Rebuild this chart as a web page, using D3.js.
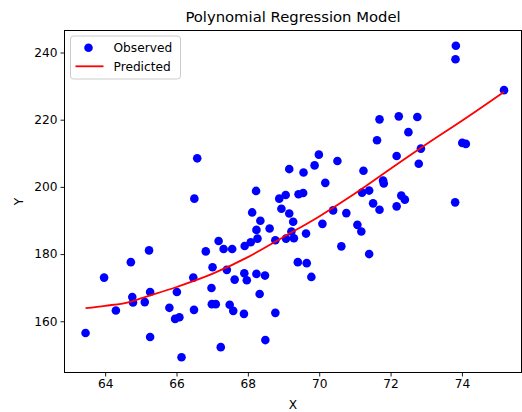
<!DOCTYPE html>
<html>
<head>
<meta charset="utf-8">
<script src="https://cdn.jsdelivr.net/npm/d3@7"></script>
<style>
  html, body { margin: 0; padding: 0; background: #fff; }
  svg { display: block; font-family: "DejaVu Sans", sans-serif; }
</style>
</head>
<body>
<svg id="chart" width="522" height="412"></svg>
<script>
// ===============================
// Dades
// ===============================
const xObserved = [
  66.58, 66.50, 65.23, 64.72, 63.97, 67.18, 66.82, 67.32, 67.56, 67.91,
  67.01, 67.41, 66.47, 67.63, 67.90, 66.98, 66.01, 65.26, 64.76, 64.78,
  65.11, 64.30, 65.80, 66.49, 66.99, 67.10, 67.49, 67.59, 67.89, 65.96,
  66.08, 63.45, 65.26, 67.24, 66.14, 67.97, 68.24, 68.48, 68.33, 68.77,
  68.49, 68.12, 68.23, 68.35, 68.24, 68.61, 68.08, 68.27, 68.77, 69.07,
  69.29, 68.88, 69.06, 69.42, 69.55, 68.94, 69.16, 69.27, 69.22, 69.63,
  69.16, 69.56, 69.87, 69.99, 69.40, 69.65, 69.78, 70.09, 70.17, 70.51,
  70.39, 70.76, 70.62, 71.07, 71.18, 71.24, 71.20, 71.40, 71.40, 71.51,
  71.69, 71.62, 71.69, 71.79, 71.81, 72.23, 72.75, 72.50, 72.85, 72.17,
  72.79, 72.30, 72.40, 72.17, 73.83, 73.82, 75.18, 74.01, 74.11, 73.81
];
const yObserved = [
  208.5, 196.5, 181.1, 177.6, 173.0, 183.9, 180.8, 181.5, 181.5, 182.4,
  176.1, 175.3, 173.0, 172.4, 174.3, 169.9, 168.7, 168.7, 167.2, 165.6,
  165.7, 163.2, 164.0, 163.4, 165.1, 165.1, 164.9, 163.1, 162.2, 160.7,
  161.2, 156.5, 155.3, 152.3, 149.3, 172.2, 174.1, 173.6, 168.1, 162.5,
  154.4, 192.4, 198.8, 189.9, 187.2, 187.6, 183.5, 184.6, 184.1, 184.6,
  184.7, 196.5, 197.6, 197.8, 198.2, 193.5, 192.1, 189.6, 186.7, 186.1,
  205.3, 204.3, 206.4, 209.6, 177.6, 177.3, 173.2, 189.0, 201.2, 207.7,
  193.0, 192.2, 182.3, 188.7, 186.7, 204.8, 198.3, 198.9, 180.0, 195.1,
  193.2, 213.9, 220.1, 201.9, 201.0, 221.0, 220.8, 216.3, 211.4, 209.2,
  206.9, 197.4, 196.2, 194.2, 242.0, 238.0, 228.8, 213.1, 212.8, 195.4
];

// corba predita (llegida del gràfic)
const xPredicted = [63.45, 64.0, 64.71, 65.0, 66.0, 67.0, 68.0, 69.0, 70.0, 71.0, 72.0, 73.0, 74.0, 75.18];
const yPredicted = [163.9, 164.6, 165.8, 166.8, 170.2, 174.1, 179.1, 185.1, 191.2, 198.0, 205.4, 212.7, 219.7, 228.3];

const xTicks = [64, 66, 68, 70, 72, 74];
const yTicks = [160, 180, 200, 220, 240];


// ===============================
// Escales
// ===============================
const svg = d3.select("#chart");

const plotLeft = 64.5, plotRight = 521.5, plotTop = 30.5, plotBottom = 372.5;

const x = d3.scaleLinear().domain([62.86, 75.67]).range([plotLeft, plotRight]);
const y = d3.scaleLinear().domain([144.6, 246.7]).range([373, 30]);

const obs = xObserved.map((d, i) => ({ x: d, y: yObserved[i] }));
const pred = xPredicted.map((d, i) => ({ x: d, y: yPredicted[i] }));


// ===============================
// Punts i línia
// ===============================
svg.append("g")
  .selectAll("circle")
  .data(obs)
  .enter()
  .append("circle")
  .attr("cx", d => x(d.x))
  .attr("cy", d => y(d.y))
  .attr("r", 4.3)
  .attr("fill", "#0000ff");

const line = d3.line()
  .x(d => x(d.x))
  .y(d => y(d.y))
  .curve(d3.curveMonotoneX);

svg.append("path")
  .datum(pred)
  .attr("d", line)
  .attr("fill", "none")
  .attr("stroke", "#ff0000")
  .attr("stroke-width", 1.8);


// ===============================
// Eixos
// ===============================
const xAxis = svg.append("g")
  .attr("transform", `translate(0, ${plotBottom})`)
  .call(d3.axisBottom(x).tickValues(xTicks).tickSize(4).tickPadding(3).tickFormat(d3.format("d")));

const yAxis = svg.append("g")
  .attr("transform", `translate(${plotLeft}, 0)`)
  .call(d3.axisLeft(y).tickValues(yTicks).tickSize(4).tickPadding(3).tickFormat(d3.format("d")));

[xAxis, yAxis].forEach(a => {
  a.select(".domain").remove();
  a.selectAll("line").attr("stroke", "#000").attr("stroke-width", 0.9);
  a.selectAll("text")
    .style("font-family", "DejaVu Sans")
    .style("font-size", "12.2px")
    .attr("fill", "#000");
});

// marc
svg.append("rect")
  .attr("x", plotLeft)
  .attr("y", plotTop)
  .attr("width", plotRight - plotLeft)
  .attr("height", plotBottom - plotTop)
  .attr("fill", "none")
  .attr("stroke", "#000")
  .attr("stroke-width", 1);

// títol i etiquetes
svg.append("text")
  .attr("x", (plotLeft + plotRight) / 2)
  .attr("y", 22)
  .attr("text-anchor", "middle")
  .text("Polynomial Regression Model")
  .style("font-size", "14.8px")
  .attr("fill", "#000");

svg.append("text")
  .attr("x", (plotLeft + plotRight) / 2)
  .attr("y", 409)
  .attr("text-anchor", "middle")
  .text("X")
  .style("font-size", "12.2px")
  .attr("fill", "#000");

svg.append("text")
  .attr("transform", `translate(22.5, ${(plotTop + plotBottom) / 2}) rotate(-90)`)
  .attr("text-anchor", "middle")
  .text("Y")
  .style("font-size", "12.2px")
  .attr("fill", "#000");


// ===============================
// Llegenda
// ===============================
const legend = svg.append("g").attr("transform", "translate(70.5, 36)");

legend.append("rect")
  .attr("width", 110)
  .attr("height", 43)
  .attr("rx", 3)
  .attr("ry", 3)
  .attr("fill", "white")
  .attr("fill-opacity", 0.8)
  .attr("stroke", "#cccccc");

legend.append("circle")
  .attr("cx", 18)
  .attr("cy", 11.7)
  .attr("r", 4.3)
  .attr("fill", "#0000ff");

legend.append("text")
  .attr("x", 43)
  .attr("y", 16)
  .text("Observed")
  .style("font-size", "12.2px")
  .attr("fill", "#000");

legend.append("line")
  .attr("x1", 5)
  .attr("x2", 33)
  .attr("y1", 30.3)
  .attr("y2", 30.3)
  .attr("stroke", "#ff0000")
  .attr("stroke-width", 1.8);

legend.append("text")
  .attr("x", 43)
  .attr("y", 34.6)
  .text("Predicted")
  .style("font-size", "12.2px")
  .attr("fill", "#000");
</script>
</body>
</html>
